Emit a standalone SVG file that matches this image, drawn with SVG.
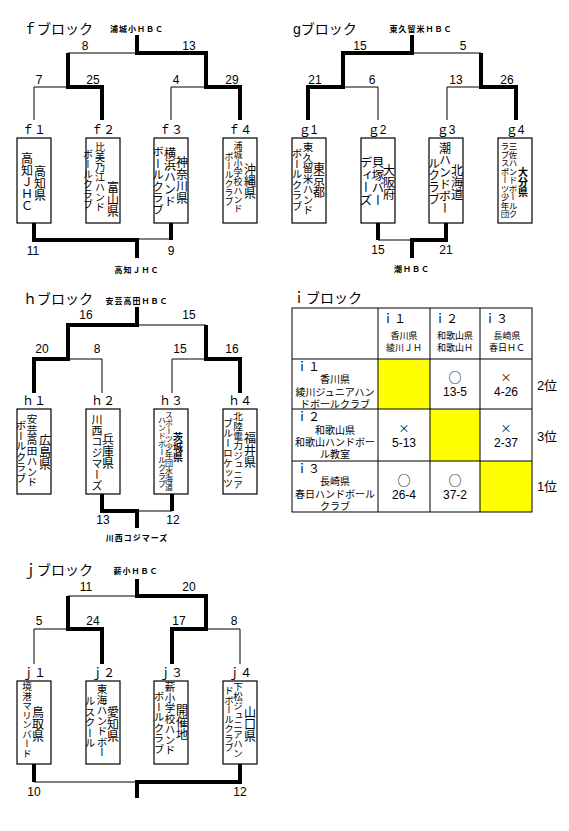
<svg xmlns="http://www.w3.org/2000/svg" width="569" height="831" viewBox="0 0 569 831">
<style>
text{font-family:"Liberation Sans","Noto Sans CJK JP",sans-serif;fill:#000}
.t{font-size:14px}
.w{font-size:8px;font-weight:bold;letter-spacing:1px;text-anchor:middle}
.n{font-size:12px;text-anchor:middle}
.l{font-size:12px;text-anchor:middle}
.v{writing-mode:vertical-rl;font-family:"Noto Sans CJK JP",sans-serif}
.box{fill:#fff;stroke:#000;stroke-width:1.2}
.thin{fill:none;stroke:#000;stroke-width:1}
.thick{fill:none;stroke:#000;stroke-width:4;stroke-linejoin:miter}
.c{font-size:10px;text-anchor:middle}
.o{font-size:13px;text-anchor:middle;font-family:"Noto Sans CJK JP",sans-serif}
.x{font-size:11px;text-anchor:middle;font-family:"Noto Sans CJK JP",sans-serif}
.s{font-size:9px;text-anchor:middle}
.g{fill:none;stroke:#000;stroke-width:1}
.y{fill:#ffff00}
</style>

<!-- ===== f block ===== -->
<g id="f-title"><text class="t" x="23" y="34">ｆブロック</text></g>
<g id="f-connectors">
<path class="thin" d="M137,53 H68 M34,120 V87 H68 M171,120 V87 H206 M137,239 H171"/>
<path class="thick" d="M137,35 V53 H206 V87 H240 V120 M68,53 V87 H102 V120 M34,223 V240 H137 V258 M171,223 V240"/>
</g>
<g id="f-labels">
<text class="w" x="137" y="32">浦城小ＨＢＣ</text>
<text class="n" x="85" y="50">8</text><text class="n" x="189" y="50">13</text>
<text class="n" x="39" y="84">7</text><text class="n" x="93" y="84">25</text>
<text class="n" x="176" y="84">4</text><text class="n" x="232" y="84">29</text>
<text class="n" x="33" y="255">11</text><text class="n" x="171" y="255">9</text>
<text class="w" x="137" y="273">高知ＪＨＣ</text>
</g>
<g id="f1"><text class="l" x="34" y="134">ｆ１</text><rect class="box" x="17" y="138" width="34" height="85"/>
<text class="v" style="font-size:12px" x="27" y="152">高知ＪＨＣ</text><text class="v" style="font-size:12px" x="40" y="165">高知県</text></g>
<g id="f2"><text class="l" x="103" y="134">ｆ２</text><rect class="box" x="86" y="138" width="34" height="85"/>
<text class="v" style="font-size:10px" x="100" y="142">比美乃江ハンド</text><text class="v" style="font-size:10px" x="88" y="149">ボールクラブ</text><text class="v" style="font-size:12px" x="113" y="181">富山県</text></g>
<g id="f3"><text class="l" x="171" y="134">ｆ３</text><rect class="box" x="154" y="138" width="34" height="85"/>
<text class="v" style="font-size:12px" x="170" y="147">横浜ハンド</text><text class="v" style="font-size:11.5px" x="158" y="146">ボールクラブ</text><text class="v" style="font-size:12px" x="182" y="156">神奈川県</text></g>
<g id="f4"><text class="l" x="240" y="134">ｆ４</text><rect class="box" x="223" y="138" width="34" height="85"/>
<text class="v" style="font-size:9px" x="238" y="141">浦城小学校ハンド</text><text class="v" style="font-size:9px" x="229" y="152">ボールクラブ</text><text class="v" style="font-size:12px" x="250" y="163">沖縄県</text></g>

<!-- ===== g block ===== -->
<g id="g-title"><text class="t" x="293" y="34">gブロック</text></g>
<g id="g-connectors">
<path class="thin" d="M412,53 H481 M343,87 H378 V120 M481,87 H447 V120 M378,240 H412"/>
<path class="thick" d="M412,35 V53 H343 V87 H308 V120 M481,53 V87 H516 V120 M378,223 V240 M446,223 V240 H412 V258"/>
</g>
<g id="g-labels">
<text class="w" x="421" y="32">東久留米ＨＢＣ</text>
<text class="n" x="360" y="50">15</text><text class="n" x="463" y="50">5</text>
<text class="n" x="315" y="84">21</text><text class="n" x="372" y="84">6</text>
<text class="n" x="456" y="84">13</text><text class="n" x="507" y="84">26</text>
<text class="n" x="378" y="254">15</text><text class="n" x="446" y="254">21</text>
<text class="w" x="412" y="272">潮ＨＢＣ</text>
</g>
<g id="g1"><text class="l" x="308" y="134">ｇ1</text><rect class="box" x="292" y="138" width="34" height="85"/>
<text class="v" style="font-size:10.5px" x="308" y="142">東久留米ハンド</text><text class="v" style="font-size:10.5px" x="297" y="148">ボールクラブ</text><text class="v" style="font-size:12px" x="319" y="162">東京都</text></g>
<g id="g2"><text class="l" x="377" y="134">ｇ2</text><rect class="box" x="361" y="138" width="34" height="85"/>
<text class="v" style="font-size:12.5px" x="378" y="156">貝塚バー</text><text class="v" style="font-size:12.5px" x="366" y="156">ディーズ</text><text class="v" style="font-size:12px" x="389" y="164">大阪府</text></g>
<g id="g3"><text class="l" x="446" y="134">ｇ3</text><rect class="box" x="429" y="138" width="34" height="85"/>
<text class="v" style="font-size:12px" x="445" y="142">潮ハンドボー</text><text class="v" style="font-size:12px" x="434" y="157">ルクラブ</text><text class="v" style="font-size:12px" x="457" y="164">北海道</text></g>
<g id="g4"><text class="l" x="515" y="134">ｇ4</text><rect class="box" x="498" y="138" width="34" height="85"/>
<text class="v" style="font-size:8.5px" x="513" y="142">三佐ハンドボールク</text><text class="v" style="font-size:8.5px" x="505" y="142">ラブスポーツ少年団</text><text class="v" style="font-size:10px;font-weight:bold" x="523" y="167">大分県</text></g>

<!-- ===== h block ===== -->
<g id="h-title"><text class="t" x="23" y="304">ｈブロック</text></g>
<g id="h-connectors">
<path class="thin" d="M137,325 H206 M68,359 H102 V393 M206,359 H172 V393 M137,511 H172"/>
<path class="thick" d="M137,307 V325 H68 V359 H34 V393 M206,325 V359 H240 V393 M102,494 V511 H137 V528 M172,494 V511"/>
</g>
<g id="h-labels">
<text class="w" x="137" y="304">安芸高田ＨＢＣ</text>
<text class="n" x="86" y="319">16</text><text class="n" x="189" y="319">15</text>
<text class="n" x="42" y="353">20</text><text class="n" x="97" y="353">8</text>
<text class="n" x="180" y="353">15</text><text class="n" x="232" y="353">16</text>
<text class="n" x="103" y="524">13</text><text class="n" x="173" y="524">12</text>
<text class="w" x="137" y="541">川西コジマーズ</text>
</g>
<g id="h1"><text class="l" x="34" y="405">ｈ１</text><rect class="box" x="17" y="409" width="34" height="85"/>
<text class="v" style="font-size:10.5px" x="32" y="414">安芸高田ハンド</text><text class="v" style="font-size:10.5px" x="21" y="420">ボールクラブ</text><text class="v" style="font-size:12px" x="45" y="434">広島県</text></g>
<g id="h2"><text class="l" x="103" y="405">ｈ２</text><rect class="box" x="86" y="409" width="34" height="85"/>
<text class="v" style="font-size:11px" x="97" y="414">川西コジマーズ</text><text class="v" style="font-size:12px" x="108" y="433">兵庫県</text></g>
<g id="h3"><text class="l" x="171" y="405">ｈ３</text><rect class="box" x="154" y="409" width="34" height="85"/>
<text class="v" style="font-size:8px" x="169" y="411">スポーツ少年団水海道</text><text class="v" style="font-size:8px" x="162" y="416">ハンドボールクラブ</text><text class="v" style="font-size:10px;font-weight:bold" x="178" y="432">茨城県</text></g>
<g id="h4"><text class="l" x="240" y="405">ｈ４</text><rect class="box" x="223" y="409" width="34" height="85"/>
<text class="v" style="font-size:9.6px" x="238" y="412">北陸電力ジュニア</text><text class="v" style="font-size:10px" x="228" y="418">ブルーロケッツ</text><text class="v" style="font-size:12px" x="250" y="432">福井県</text></g>

<!-- ===== i block (table) ===== -->
<g id="i-title"><text class="t" x="292" y="303">ｉブロック</text></g>
<g id="i-table">
<rect class="y" x="378" y="359" width="52" height="50"/>
<rect class="y" x="430" y="409" width="50" height="52"/>
<rect class="y" x="480" y="461" width="52" height="51"/>
<rect class="g" x="292" y="308" width="240" height="204"/>
<path class="g" d="M378,308 V512 M430,308 V512 M480,308 V512 M292,359 H532 M292,409 H532 M292,461 H532"/>
</g>
<g id="i-header">
<text x="382" y="323" style="font-size:12px">ｉ１</text>
<text class="s" x="404" y="339">香川県</text><text class="s" x="404" y="351">綾川ＪＨ</text>
<text x="434" y="323" style="font-size:12px">ｉ２</text>
<text class="s" x="455" y="339">和歌山県</text><text class="s" x="455" y="351">和歌山Ｈ</text>
<text x="484" y="323" style="font-size:12px">ｉ３</text>
<text class="s" x="507" y="339">長崎県</text><text class="s" x="507" y="351">春日ＨＣ</text>
</g>
<g id="i1">
<text x="296" y="371" style="font-size:12px">ｉ１</text>
<text class="c" x="335" y="383">香川県</text>
<text class="c" x="335" y="396">綾川ジュニアハン</text>
<text class="c" x="335" y="408">ドボールクラブ</text>
<text class="o" x="455" y="382">○</text><text class="n" x="455" y="396">13-5</text>
<text class="x" x="506" y="382">×</text><text class="n" x="506" y="396">4-26</text>
<text x="547" y="390" style="font-size:13px;text-anchor:middle">2位</text>
</g>
<g id="i2">
<text x="296" y="421" style="font-size:12px">ｉ２</text>
<text class="c" x="335" y="434">和歌山県</text>
<text class="c" x="335" y="446">和歌山ハンドボー</text>
<text class="c" x="335" y="458">ル教室</text>
<text class="x" x="404" y="433">×</text><text class="n" x="404" y="447">5-13</text>
<text class="x" x="506" y="433">×</text><text class="n" x="506" y="447">2-37</text>
<text x="547" y="441" style="font-size:13px;text-anchor:middle">3位</text>
</g>
<g id="i3">
<text x="296" y="473" style="font-size:12px">ｉ３</text>
<text class="c" x="335" y="485">長崎県</text>
<text class="c" x="335" y="498">春日ハンドボール</text>
<text class="c" x="335" y="510">クラブ</text>
<text class="o" x="404" y="485">○</text><text class="n" x="404" y="499">26-4</text>
<text class="o" x="455" y="485">○</text><text class="n" x="455" y="499">37-2</text>
<text x="547" y="491" style="font-size:13px;text-anchor:middle">1位</text>
</g>

<!-- ===== j block ===== -->
<g id="j-title"><text class="t" x="23" y="575">ｊブロック</text></g>
<g id="j-connectors">
<path class="thin" d="M137,596 H68 M68,629 H34 V664 M206,629 H240 V664 M34,782 H137"/>
<path class="thick" d="M137,579 V596 H206 V629 H172 V664 M68,596 V629 H102 V664 M34,764 V782 M240,764 V782 H137 V798"/>
</g>
<g id="j-labels">
<text class="w" x="136" y="574">薪小ＨＢＣ</text>
<text class="n" x="86" y="591">11</text><text class="n" x="189" y="591">20</text>
<text class="n" x="39" y="625">5</text><text class="n" x="93" y="625">24</text>
<text class="n" x="179" y="625">17</text><text class="n" x="234" y="625">8</text>
<text class="n" x="34" y="796">10</text><text class="n" x="240" y="796">12</text>
</g>
<g id="j1"><text class="l" x="34" y="677">ｊ１</text><rect class="box" x="17" y="681" width="34" height="83"/>
<text class="v" style="font-size:9.5px" x="27" y="682">境港マリンバード</text><text class="v" style="font-size:12px" x="38" y="706">鳥取県</text></g>
<g id="j2"><text class="l" x="103" y="677">ｊ２</text><rect class="box" x="86" y="681" width="34" height="83"/>
<text class="v" style="font-size:10.5px" x="102" y="684">東海ハンドボー</text><text class="v" style="font-size:10.5px" x="90" y="696">ルスクール</text><text class="v" style="font-size:12px" x="113" y="706">愛知県</text></g>
<g id="j3"><text class="l" x="171" y="677">ｊ３</text><rect class="box" x="154" y="681" width="34" height="83"/>
<text class="v" style="font-size:10.5px" x="170" y="682">薪小学校ハンド</text><text class="v" style="font-size:10.5px" x="159" y="691">ボールクラブ</text><text class="v" style="font-size:12px" x="182" y="704">開催地</text></g>
<g id="j4"><text class="l" x="240" y="677">ｊ４</text><rect class="box" x="223" y="681" width="34" height="83"/>
<text class="v" style="font-size:9.5px" x="238" y="682">下松ジュニアハン</text><text class="v" style="font-size:9.5px" x="229" y="686">ドボールクラブ</text><text class="v" style="font-size:12px" x="250" y="706">山口県</text></g>
</svg>
